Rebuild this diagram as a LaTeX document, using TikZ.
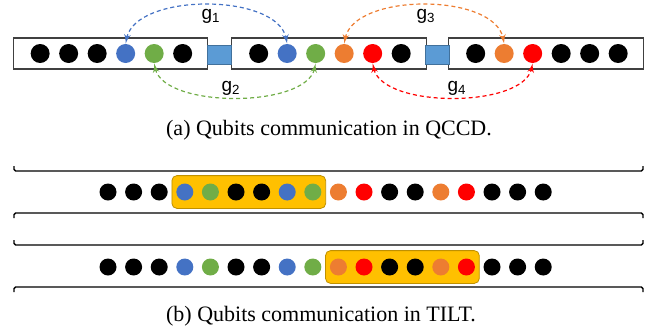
\documentclass[tikz,border=0pt]{standalone}
\usepackage{fontspec}
\setmainfont{Liberation Serif}
\newfontfamily\gatefont{Liberation Sans}
\usepackage{tikz}
\usepackage{xcolor}
\usetikzlibrary{calc}
\usetikzlibrary{positioning}
\usetikzlibrary{shapes,arrows}
\usetikzlibrary{fit,backgrounds}

\definecolor{ionBlack}{HTML}{000000}
\definecolor{ionBlue}{HTML}{4472C4}
\definecolor{ionGreen}{HTML}{70AD47}
\definecolor{ionOrange}{HTML}{ED7D31}
\definecolor{ionRed}{HTML}{FF0000}
\definecolor{trapGray}{HTML}{404040}
\definecolor{shuttleBlue}{HTML}{5B9BD5}
\definecolor{shuttleEdge}{HTML}{41719C}
\definecolor{chainYellow}{HTML}{FFC000}
\definecolor{chainEdge}{HTML}{BF9000}

\begin{document}
\begin{tikzpicture} [x=0.5pt, y=-0.5pt, >=latex']
            % Set primary nodes
            \tikzset{
                trapNode/.style={
                        draw=trapGray,
                        line width=0.6pt,
                        rectangle,
                        fill=white,
                        minimum width=97.25pt,
                        minimum height=15.5pt,
                        inner sep=0pt
                    }
            }
            \tikzset{
                shuttleNode/.style={
                        draw=shuttleEdge,
                        fill=shuttleBlue,
                        rectangle,
                        minimum width=12pt,
                        minimum height=9.5pt,
                        inner sep=0pt
                    }
            }
            \tikzset{
                ionNode/.style={
                        circle,
                        inner sep=0pt,
                        minimum size=9.5pt
                    }
            }
            \tikzset{
                ionSmall/.style={
                        circle,
                        inner sep=0pt,
                        minimum size=8.5pt
                    }
            }
            \tikzset{
                chainNode/.style={
                        draw=chainEdge,
                        fill=chainYellow,
                        rounded corners=2.5pt,
                        inner xsep=2pt,
                        inner ysep=3.75pt
                    }
            }
            \tikzset{
                gateLabel/.style={
                        font=\gatefont\fontsize{9.5}{11}\selectfont
                    }
            }
            \tikzset{
                captionNode/.style={
                        font=\fontsize{11}{13}\selectfont
                    }
            }
            % Configure arrows
            \tikzstyle{gate} = [<->, dash pattern=on 2pt off 1.5pt, line width=0.6pt]
            \tikzstyle{rail} = [line width=0.7pt, rounded corners=0.8pt]
            \useasboundingbox (0,0) rectangle (651,333);
            % Placing nodes
            \node[trapNode](trap1) at (110.5,53.5){};
            \node[trapNode](trap2) at (329,53.5){};
            \node[trapNode](trap3) at (546,53.5){};
            \node[shuttleNode](shuttle1) at ($(trap1.east)!0.5!(trap2.west)+(0,1)$){};
            \node[shuttleNode](shuttle2) at ($(trap2.east)!0.5!(trap3.west)+(0,1)$){};
            \foreach \col [count=\i] in {ionBlack,ionBlack,ionBlack,ionBlue,ionGreen,ionBlack}
                \node[ionNode, fill=\col](ionA\i) at ($(trap1.west)+(28.5*\i-1,0)$){};
            \foreach \col [count=\i] in {ionBlack,ionBlue,ionGreen,ionOrange,ionRed,ionBlack}
                \node[ionNode, fill=\col](ionB\i) at ($(trap2.west)+(28.5*\i-1,0)$){};
            \foreach \col [count=\i] in {ionBlack,ionOrange,ionRed,ionBlack,ionBlack,ionBlack}
                \node[ionNode, fill=\col](ionC\i) at ($(trap3.west)+(28.5*\i-1,0)$){};
            \node[gateLabel](labelG1) at (211,16){g\textsubscript{1}};
            \node[gateLabel](labelG2) at (231,88){g\textsubscript{2}};
            \node[gateLabel](labelG3) at (426,16){g\textsubscript{3}};
            \node[gateLabel](labelG4) at (457,88){g\textsubscript{4}};
            \node[captionNode](captionA) at (329,130){(a) Qubits communication in QCCD.};
            % Draw arrows
            \draw[gate, ionBlue](ionA4.north) .. controls +(10,-51) and +(-10,-51) .. (ionB2.north);
            \draw[gate, ionGreen](ionA5.south) .. controls +(10,45) and +(-10,45) .. (ionB3.south);
            \draw[gate, ionOrange](ionB4.north) .. controls +(10,-51) and +(-10,-51) .. (ionC2.north);
            \draw[gate, ionRed](ionB5.south) .. controls +(10,45) and +(-10,45) .. (ionC3.south);
            % Long trap
            \draw[rail](14,166) -- (14,171) -- (643,171) -- (643,166);
            \draw[rail](14,218) -- (14,213) -- (643,213) -- (643,218);
            \draw[rail](14,240) -- (14,245) -- (643,245) -- (643,240);
            \draw[rail](14,292) -- (14,287) -- (643,287) -- (643,292);
            \foreach \col [count=\i] in {ionBlack,ionBlack,ionBlack,ionBlue,ionGreen,ionBlack,ionBlack,ionBlue,ionGreen,ionOrange,ionRed,ionBlack,ionBlack,ionOrange,ionRed,ionBlack,ionBlack,ionBlack}{
                \node[ionSmall, fill=\col](ionR\i) at (82.4+25.6*\i,192){};
                \node[ionSmall, fill=\col](ionS\i) at (82.4+25.6*\i,267){};
            }
            \begin{scope}[on background layer]
                \node[chainNode, fit=(ionR4)(ionR9)](chain1){};
                \node[chainNode, fit=(ionS10)(ionS15)](chain2){};
            \end{scope}
            \node[captionNode](captionB) at (321,316){(b) Qubits communication in TILT.};
        \end{tikzpicture}
\end{document}
